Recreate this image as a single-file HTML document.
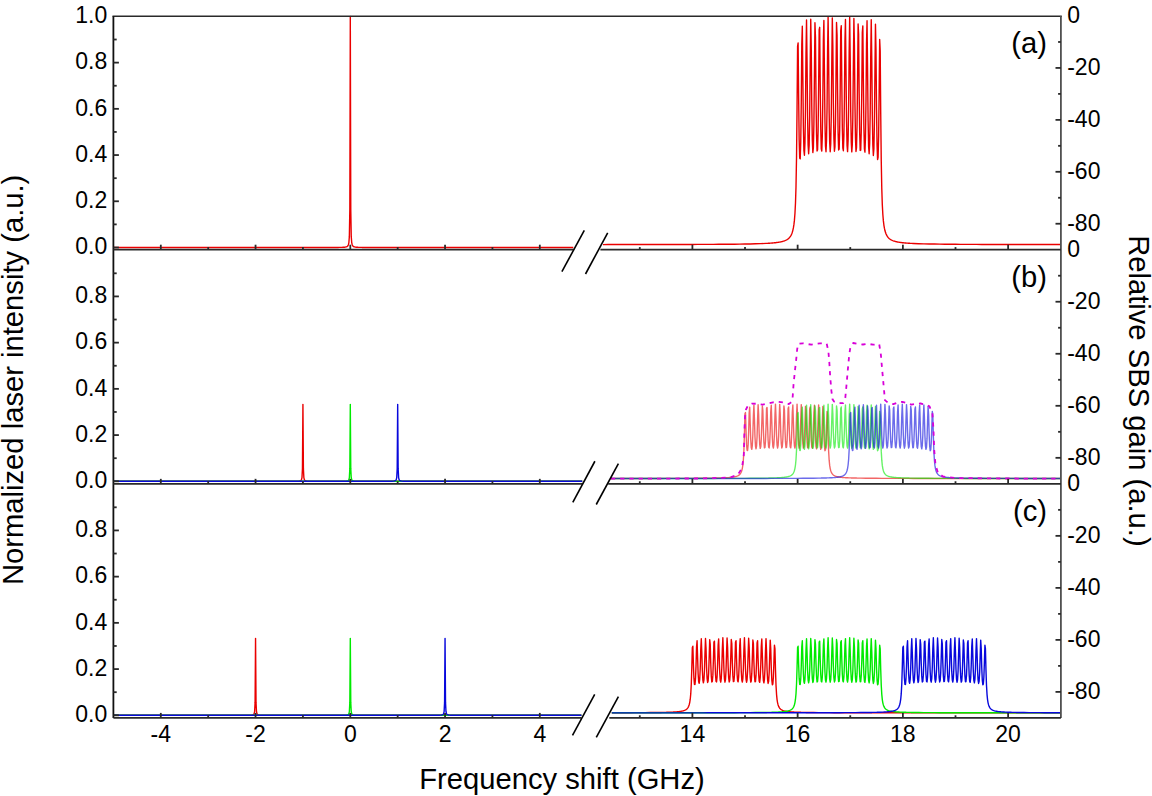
<!DOCTYPE html><html><head><meta charset="utf-8"><style>html,body{margin:0;padding:0;background:#fff;}svg{display:block;}text{font-family:"Liberation Sans",sans-serif;fill:#000;}</style></head><body>
<svg width="1152" height="796" viewBox="0 0 1152 796">
<defs>
<clipPath id="cl0"><rect x="113.4" y="14.0" width="459.90" height="235.70"/></clipPath>
<clipPath id="cr0"><rect x="602.90" y="14.0" width="458.00" height="235.70"/></clipPath>
<clipPath id="cl1"><rect x="113.4" y="247.7" width="468.80" height="236.15"/></clipPath>
<clipPath id="cr1"><rect x="610.70" y="247.7" width="450.20" height="236.15"/></clipPath>
<clipPath id="cl2"><rect x="113.4" y="481.85" width="468.00" height="236.05"/></clipPath>
<clipPath id="cr2"><rect x="611.80" y="481.85" width="449.10" height="236.05"/></clipPath>
</defs>
<g clip-path="url(#cl0)" fill="none" stroke-width="1.4" stroke-linejoin="round">
<polyline stroke="#ea0000" points="112.40,247.50 122.40,247.50 132.40,247.50 142.40,247.50 152.40,247.50 162.40,247.50 172.40,247.50 182.40,247.50 192.40,247.50 202.40,247.50 212.40,247.50 222.40,247.50 232.40,247.50 242.40,247.50 252.40,247.50 262.40,247.50 272.40,247.50 282.40,247.50 292.40,247.50 302.40,247.50 312.40,247.49 322.40,247.49 331.35,247.47 331.82,247.47 332.30,247.47 332.77,247.47 333.25,247.46 333.72,247.46 334.19,247.46 334.67,247.46 335.14,247.46 335.61,247.45 336.09,247.45 336.56,247.45 337.04,247.44 337.51,247.44 337.98,247.43 338.46,247.43 338.93,247.42 339.40,247.41 339.88,247.41 340.35,247.40 340.82,247.39 341.30,247.37 341.77,247.36 342.25,247.34 342.72,247.32 343.19,247.30 343.67,247.27 344.14,247.23 344.62,247.19 345.09,247.13 345.56,247.05 346.04,246.94 346.51,246.79 346.98,246.58 347.46,246.25 347.93,245.70 348.41,244.70 348.88,242.56 349.35,236.68 349.83,209.55 350.30,16.40 350.77,209.55 351.25,236.68 351.72,242.56 352.19,244.70 352.67,245.70 353.14,246.25 353.62,246.58 354.09,246.79 354.56,246.94 355.04,247.05 355.51,247.13 355.99,247.19 356.46,247.23 356.93,247.27 357.41,247.30 357.88,247.32 358.35,247.34 358.83,247.36 359.30,247.37 359.78,247.39 360.25,247.40 360.72,247.41 361.20,247.41 361.67,247.42 362.14,247.43 362.62,247.43 363.09,247.44 363.56,247.44 364.04,247.45 364.51,247.45 364.99,247.45 365.46,247.46 365.93,247.46 366.41,247.46 366.88,247.46 367.36,247.46 367.83,247.47 368.30,247.47 368.78,247.47 369.25,247.47 379.25,247.49 389.25,247.49 399.25,247.50 409.25,247.50 419.25,247.50 429.25,247.50 439.25,247.50 449.25,247.50 459.25,247.50 469.25,247.50 479.25,247.50 489.25,247.50 499.25,247.50 509.25,247.50 519.25,247.50 529.25,247.50 539.25,247.50 549.25,247.50 559.25,247.50 569.25,247.50 574.30,247.50"/>
</g>
<g clip-path="url(#cr0)" fill="none" stroke-width="1.4" stroke-linejoin="round">
<polyline stroke="#ea0000" points="602.89,244.58 608.15,244.57 613.41,244.57 618.68,244.57 623.94,244.56 629.20,244.56 634.46,244.55 639.72,244.54 644.99,244.54 650.25,244.53 655.51,244.52 660.77,244.51 666.03,244.50 671.30,244.49 676.56,244.48 681.82,244.47 687.08,244.46 692.34,244.44 697.61,244.42 702.87,244.40 708.13,244.38 713.39,244.35 718.65,244.32 723.92,244.28 729.18,244.24 734.44,244.19 739.70,244.12 744.96,244.04 750.23,243.95 755.49,243.82 760.75,243.65 766.01,243.42 766.54,243.39 767.06,243.36 767.59,243.33 768.12,243.30 768.64,243.27 769.17,243.23 769.70,243.20 770.22,243.16 770.75,243.12 771.27,243.08 771.80,243.04 772.33,243.00 772.85,242.95 773.38,242.90 773.91,242.85 774.43,242.80 774.96,242.74 775.48,242.68 776.01,242.62 776.54,242.56 777.06,242.49 777.59,242.41 778.11,242.34 778.64,242.25 779.17,242.16 779.69,242.07 780.22,241.97 780.75,241.86 781.27,241.75 781.80,241.62 782.32,241.49 782.85,241.35 783.38,241.19 783.90,241.02 784.43,240.83 784.96,240.63 785.48,240.41 786.01,240.16 786.53,239.89 787.06,239.58 787.59,239.24 788.11,238.85 788.64,238.41 789.17,237.91 789.69,237.32 790.22,236.64 790.74,235.83 791.27,234.86 791.80,233.68 792.32,232.21 792.85,230.35 793.37,227.93 793.90,224.68 794.43,220.15 794.95,213.53 795.48,203.32 796.01,186.54 796.53,157.36 797.06,107.32 797.58,46.41 798.11,42.85 798.64,97.06 799.16,139.51 799.69,158.19 800.22,158.86 800.74,142.22 801.27,102.81 801.79,44.25 802.32,26.24 802.85,77.32 803.37,126.19 803.90,150.34 804.42,155.27 804.95,143.13 805.48,109.47 806.00,52.83 806.53,20.01 807.06,62.54 807.58,116.06 808.11,145.17 808.63,153.83 809.16,145.53 809.69,116.99 810.21,63.89 810.74,19.18 811.27,49.16 811.79,105.89 812.32,140.12 812.84,152.55 813.37,147.83 813.90,124.05 814.42,75.57 814.95,22.76 815.48,37.19 816.00,95.03 816.53,134.55 817.05,150.93 817.58,149.69 818.11,130.32 818.63,87.00 819.16,29.96 819.68,27.32 820.21,83.39 820.74,128.21 821.26,148.79 821.79,150.98 822.32,135.73 822.84,97.72 823.37,39.85 823.89,20.40 824.42,71.09 824.95,120.94 825.47,146.01 826.00,151.68 826.53,140.28 827.05,107.48 827.58,51.40 828.10,17.13 828.63,58.49 829.16,112.64 829.68,142.51 830.21,151.75 830.73,144.01 831.26,116.18 831.79,63.70 832.31,17.88 832.84,46.19 833.37,103.26 833.89,138.21 834.42,151.19 834.94,146.97 835.47,123.81 836.00,75.99 836.52,22.52 837.05,34.97 837.58,92.83 838.10,133.05 838.63,149.97 839.15,149.20 839.68,130.39 840.21,87.76 840.73,30.49 841.26,25.79 841.79,81.44 842.31,126.94 842.84,148.08 843.36,150.73 843.89,136.00 844.42,98.67 844.94,40.92 845.47,19.56 845.99,69.36 846.52,119.82 847.05,145.48 847.57,151.61 848.10,140.70 848.63,108.56 849.15,52.87 849.68,17.02 850.20,57.01 850.73,111.63 851.26,142.14 851.78,151.85 852.31,144.58 852.84,117.37 853.36,65.45 853.89,18.51 854.41,45.05 854.94,102.38 855.47,138.00 855.99,151.48 856.52,147.72 857.04,125.14 857.57,77.98 858.10,23.89 858.62,34.33 859.15,92.13 859.68,133.04 860.20,150.51 860.73,150.20 861.25,131.96 861.78,90.02 862.31,32.59 862.83,25.85 863.36,81.06 863.89,127.25 864.41,149.00 864.94,152.14 865.46,137.96 865.99,101.36 866.52,43.84 867.04,20.66 867.57,69.57 868.10,120.70 868.62,147.06 869.15,153.75 869.67,143.43 870.20,112.05 870.73,56.91 871.25,19.70 871.78,58.43 872.30,113.70 872.83,145.06 873.36,155.51 873.88,148.99 874.41,122.72 874.94,71.74 875.46,24.19 875.99,49.42 876.51,107.60 877.04,144.62 877.57,159.49 878.09,157.27 878.62,136.64 879.15,91.88 879.67,39.50 880.20,50.97 880.72,112.97 881.25,160.84 881.78,188.52 882.30,204.49 882.83,214.27 883.35,220.64 883.88,225.03 884.41,228.19 884.93,230.55 885.46,232.36 885.99,233.80 886.51,234.96 887.04,235.91 887.56,236.71 888.09,237.38 888.62,237.96 889.14,238.45 889.67,238.89 890.20,239.27 890.72,239.61 891.25,239.91 891.77,240.18 892.30,240.43 892.83,240.65 893.35,240.85 893.88,241.04 894.41,241.20 894.93,241.36 895.46,241.50 895.98,241.64 896.51,241.76 897.04,241.87 897.56,241.98 898.09,242.08 898.61,242.17 899.14,242.26 899.67,242.34 900.19,242.42 900.72,242.49 901.25,242.56 901.77,242.63 902.30,242.69 902.82,242.75 903.35,242.80 903.88,242.86 904.40,242.91 904.93,242.96 905.46,243.00 905.98,243.05 906.51,243.09 907.03,243.13 907.56,243.17 908.09,243.20 908.61,243.24 909.14,243.27 909.66,243.30 910.19,243.34 910.72,243.37 911.24,243.39 913.35,243.50 918.61,243.71 923.87,243.86 929.13,243.98 934.40,244.07 939.66,244.14 944.92,244.20 950.18,244.25 955.44,244.29 960.71,244.33 965.97,244.36 971.23,244.38 976.49,244.41 981.75,244.43 987.02,244.44 992.28,244.46 997.54,244.47 1002.80,244.49 1008.06,244.50 1013.33,244.51 1018.59,244.52 1023.85,244.53 1029.11,244.53 1034.37,244.54 1039.64,244.55 1044.90,244.55 1050.16,244.56 1055.42,244.56 1060.68,244.57 1065.95,244.57 1066.47,244.57"/>
</g>
<g clip-path="url(#cl1)" fill="none" stroke-width="1.4" stroke-linejoin="round">
<polyline stroke="#ea0000" points="112.40,481.30 122.40,481.30 132.40,481.30 142.40,481.30 152.40,481.30 162.40,481.30 172.40,481.30 182.40,481.30 192.40,481.30 202.40,481.30 212.40,481.30 222.40,481.30 232.40,481.30 242.40,481.30 252.40,481.30 262.40,481.30 272.40,481.30 282.40,481.29 283.98,481.29 284.45,481.29 284.92,481.29 285.40,481.29 285.87,481.29 286.34,481.29 286.82,481.29 287.29,481.29 287.76,481.29 288.24,481.28 288.71,481.28 289.19,481.28 289.66,481.28 290.13,481.28 290.61,481.28 291.08,481.28 291.56,481.27 292.03,481.27 292.50,481.27 292.98,481.27 293.45,481.26 293.92,481.26 294.40,481.25 294.87,481.25 295.35,481.24 295.82,481.23 296.29,481.22 296.77,481.21 297.24,481.20 297.71,481.18 298.19,481.15 298.66,481.11 299.13,481.06 299.61,480.99 300.08,480.88 300.56,480.70 301.03,480.37 301.50,479.66 301.98,477.70 302.45,468.66 302.93,404.34 303.40,468.66 303.87,477.70 304.35,479.66 304.82,480.37 305.29,480.70 305.77,480.88 306.24,480.99 306.72,481.06 307.19,481.11 307.66,481.15 308.14,481.18 308.61,481.20 309.08,481.21 309.56,481.22 310.03,481.23 310.50,481.24 310.98,481.25 311.45,481.25 311.93,481.26 312.40,481.26 312.87,481.27 313.35,481.27 313.82,481.27 314.30,481.27 314.77,481.28 315.24,481.28 315.72,481.28 316.19,481.28 316.66,481.28 317.14,481.28 317.61,481.28 318.09,481.29 318.56,481.29 319.03,481.29 319.51,481.29 319.98,481.29 320.45,481.29 320.93,481.29 321.40,481.29 321.88,481.29 331.88,481.30 341.88,481.30 351.88,481.30 361.88,481.30 371.88,481.30 381.88,481.30 391.88,481.30 401.88,481.30 411.88,481.30 421.88,481.30 431.88,481.30 441.88,481.30 451.88,481.30 461.88,481.30 471.88,481.30 481.88,481.30 491.88,481.30 501.88,481.30 511.88,481.30 521.88,481.30 531.88,481.30 541.88,481.30 551.88,481.30 561.88,481.30 571.88,481.30 581.88,481.30 583.20,481.30"/>
<polyline stroke="#00ea00" points="112.40,481.30 122.40,481.30 132.40,481.30 142.40,481.30 152.40,481.30 162.40,481.30 172.40,481.30 182.40,481.30 192.40,481.30 202.40,481.30 212.40,481.30 222.40,481.30 232.40,481.30 242.40,481.30 252.40,481.30 262.40,481.30 272.40,481.30 282.40,481.30 292.40,481.30 302.40,481.30 312.40,481.30 322.40,481.30 331.35,481.29 331.82,481.29 332.30,481.29 332.77,481.29 333.25,481.29 333.72,481.29 334.19,481.29 334.67,481.29 335.14,481.29 335.61,481.28 336.09,481.28 336.56,481.28 337.04,481.28 337.51,481.28 337.98,481.28 338.46,481.28 338.93,481.27 339.40,481.27 339.88,481.27 340.35,481.27 340.82,481.26 341.30,481.26 341.77,481.25 342.25,481.25 342.72,481.24 343.19,481.23 343.67,481.22 344.14,481.21 344.62,481.20 345.09,481.18 345.56,481.15 346.04,481.11 346.51,481.06 346.98,480.99 347.46,480.88 347.93,480.70 348.41,480.37 348.88,479.66 349.35,477.70 349.83,468.66 350.30,404.34 350.77,468.66 351.25,477.70 351.72,479.66 352.19,480.37 352.67,480.70 353.14,480.88 353.62,480.99 354.09,481.06 354.56,481.11 355.04,481.15 355.51,481.18 355.99,481.20 356.46,481.21 356.93,481.22 357.41,481.23 357.88,481.24 358.35,481.25 358.83,481.25 359.30,481.26 359.78,481.26 360.25,481.27 360.72,481.27 361.20,481.27 361.67,481.27 362.14,481.28 362.62,481.28 363.09,481.28 363.56,481.28 364.04,481.28 364.51,481.28 364.99,481.28 365.46,481.29 365.93,481.29 366.41,481.29 366.88,481.29 367.36,481.29 367.83,481.29 368.30,481.29 368.78,481.29 369.25,481.29 379.25,481.30 389.25,481.30 399.25,481.30 409.25,481.30 419.25,481.30 429.25,481.30 439.25,481.30 449.25,481.30 459.25,481.30 469.25,481.30 479.25,481.30 489.25,481.30 499.25,481.30 509.25,481.30 519.25,481.30 529.25,481.30 539.25,481.30 549.25,481.30 559.25,481.30 569.25,481.30 579.25,481.30 583.20,481.30"/>
<polyline stroke="#0808dc" points="112.40,481.30 122.40,481.30 132.40,481.30 142.40,481.30 152.40,481.30 162.40,481.30 172.40,481.30 182.40,481.30 192.40,481.30 202.40,481.30 212.40,481.30 222.40,481.30 232.40,481.30 242.40,481.30 252.40,481.30 262.40,481.30 272.40,481.30 282.40,481.30 292.40,481.30 302.40,481.30 312.40,481.30 322.40,481.30 332.40,481.30 342.40,481.30 352.40,481.30 362.40,481.30 372.40,481.29 378.73,481.29 379.20,481.29 379.67,481.29 380.15,481.29 380.62,481.29 381.09,481.29 381.57,481.29 382.04,481.29 382.51,481.29 382.99,481.28 383.46,481.28 383.94,481.28 384.41,481.28 384.88,481.28 385.36,481.28 385.83,481.28 386.31,481.27 386.78,481.27 387.25,481.27 387.73,481.27 388.20,481.26 388.67,481.26 389.15,481.25 389.62,481.25 390.10,481.24 390.57,481.23 391.04,481.22 391.52,481.21 391.99,481.20 392.46,481.18 392.94,481.15 393.41,481.11 393.88,481.06 394.36,480.99 394.83,480.88 395.31,480.70 395.78,480.37 396.25,479.66 396.73,477.70 397.20,468.66 397.68,404.34 398.15,468.66 398.62,477.70 399.10,479.66 399.57,480.37 400.04,480.70 400.52,480.88 400.99,480.99 401.47,481.06 401.94,481.11 402.41,481.15 402.89,481.18 403.36,481.20 403.83,481.21 404.31,481.22 404.78,481.23 405.25,481.24 405.73,481.25 406.20,481.25 406.68,481.26 407.15,481.26 407.62,481.27 408.10,481.27 408.57,481.27 409.05,481.27 409.52,481.28 409.99,481.28 410.47,481.28 410.94,481.28 411.41,481.28 411.89,481.28 412.36,481.28 412.84,481.29 413.31,481.29 413.78,481.29 414.26,481.29 414.73,481.29 415.20,481.29 415.68,481.29 416.15,481.29 416.62,481.29 426.62,481.30 436.62,481.30 446.62,481.30 456.62,481.30 466.62,481.30 476.62,481.30 486.62,481.30 496.62,481.30 506.62,481.30 516.62,481.30 526.62,481.30 536.62,481.30 546.62,481.30 556.62,481.30 566.62,481.30 576.62,481.30 583.20,481.30"/>
</g>
<g clip-path="url(#cr1)" fill="none" stroke-width="1.4" stroke-linejoin="round">
<polyline stroke="#ea0000" stroke-opacity="0.6" points="602.89,478.48 608.15,478.48 613.41,478.48 618.68,478.47 623.94,478.47 629.20,478.47 634.46,478.46 639.72,478.46 644.99,478.45 650.25,478.44 655.51,478.44 660.77,478.43 666.03,478.42 671.30,478.40 676.56,478.39 681.82,478.37 687.08,478.35 692.34,478.33 697.61,478.29 702.87,478.25 708.13,478.20 713.39,478.12 713.92,478.11 714.44,478.10 714.97,478.09 715.50,478.08 716.02,478.07 716.55,478.06 717.08,478.05 717.60,478.04 718.13,478.03 718.65,478.01 719.18,478.00 719.71,477.98 720.23,477.97 720.76,477.95 721.29,477.94 721.81,477.92 722.34,477.90 722.86,477.88 723.39,477.86 723.92,477.84 724.44,477.82 724.97,477.79 725.49,477.77 726.02,477.74 726.55,477.71 727.07,477.68 727.60,477.65 728.13,477.61 728.65,477.58 729.18,477.53 729.70,477.49 730.23,477.44 730.76,477.39 731.28,477.34 731.81,477.28 732.34,477.21 732.86,477.14 733.39,477.06 733.91,476.97 734.44,476.87 734.97,476.76 735.49,476.63 736.02,476.48 736.55,476.32 737.07,476.13 737.60,475.90 738.12,475.64 738.65,475.32 739.18,474.94 739.70,474.46 740.23,473.85 740.75,473.06 741.28,472.00 741.81,470.51 742.33,468.35 742.86,465.01 743.39,459.53 743.91,449.99 744.44,433.63 744.96,413.72 745.49,412.55 746.02,430.28 746.54,444.15 747.07,450.26 747.60,450.48 748.12,445.04 748.65,432.16 749.17,413.01 749.70,407.12 750.23,423.82 750.75,439.80 751.28,447.69 751.80,449.30 752.33,445.34 752.86,434.33 753.38,415.82 753.91,405.09 754.44,418.99 754.96,436.49 755.49,446.00 756.01,448.84 756.54,446.12 757.07,436.79 757.59,419.43 758.12,404.82 758.65,414.62 759.17,433.16 759.70,444.35 760.22,448.42 760.75,446.88 761.28,439.10 761.80,423.25 762.33,405.99 762.86,410.70 763.38,429.61 763.91,442.53 764.43,447.89 764.96,447.48 765.49,441.15 766.01,426.99 766.54,408.34 767.06,407.48 767.59,425.81 768.12,440.46 768.64,447.19 769.17,447.90 769.70,442.92 770.22,430.49 770.75,411.57 771.27,405.22 771.80,421.79 772.33,438.08 772.85,446.28 773.38,448.13 773.91,444.40 774.43,433.68 774.96,415.35 775.48,404.15 776.01,417.67 776.54,435.37 777.06,445.13 777.59,448.15 778.11,445.62 778.64,436.53 779.17,419.37 779.69,404.39 780.22,413.65 780.75,432.30 781.27,443.73 781.80,447.97 782.32,446.59 782.85,439.02 783.38,423.39 783.90,405.91 784.43,409.98 784.96,428.89 785.48,442.04 786.01,447.57 786.53,447.32 787.06,441.17 787.59,427.24 788.11,408.52 788.64,406.98 789.17,425.17 789.69,440.04 790.22,446.96 790.74,447.82 791.27,443.01 791.80,430.80 792.32,411.93 792.85,404.94 793.37,421.22 793.90,437.72 794.43,446.11 794.95,448.11 795.48,444.54 796.01,434.04 796.53,415.83 797.06,404.11 797.58,417.18 798.11,435.04 798.64,445.01 799.16,448.19 799.69,445.81 800.22,436.92 800.74,419.94 801.27,404.60 801.79,413.27 802.32,432.02 802.85,443.66 803.37,448.07 803.90,446.84 804.42,439.46 804.95,424.04 805.48,406.36 806.00,409.77 806.53,428.66 807.06,442.04 807.58,447.75 808.11,447.65 808.63,441.68 809.16,427.98 809.69,409.20 810.21,407.00 810.74,425.05 811.27,440.15 811.79,447.26 812.32,448.28 812.84,443.65 813.37,431.68 813.90,412.88 814.42,405.30 814.95,421.29 815.48,438.00 816.00,446.62 816.53,448.81 817.05,445.43 817.58,435.18 818.11,417.15 818.63,404.99 819.16,417.65 819.68,435.72 820.21,445.97 820.74,449.38 821.26,447.25 821.79,438.66 822.32,422.00 822.84,406.46 823.37,414.70 823.89,433.72 824.42,445.82 824.95,450.69 825.47,449.96 826.00,443.22 826.53,428.58 827.05,411.46 827.58,415.21 828.10,435.48 828.63,451.13 829.16,460.17 829.68,465.40 830.21,468.59 830.73,470.68 831.26,472.11 831.79,473.14 832.31,473.91 832.84,474.51 833.37,474.98 833.89,475.36 834.42,475.67 834.94,475.93 835.47,476.15 836.00,476.34 836.52,476.50 837.05,476.64 837.58,476.77 838.10,476.88 838.63,476.98 839.15,477.06 839.68,477.14 840.21,477.22 840.73,477.28 841.26,477.34 841.79,477.40 842.31,477.45 842.84,477.50 843.36,477.54 843.89,477.58 844.42,477.62 844.94,477.65 845.47,477.68 845.99,477.71 846.52,477.74 847.05,477.77 847.57,477.80 848.10,477.82 848.63,477.84 849.15,477.86 849.68,477.88 850.20,477.90 850.73,477.92 851.26,477.94 851.78,477.95 852.31,477.97 852.84,477.99 853.36,478.00 853.89,478.01 854.41,478.03 854.94,478.04 855.47,478.05 855.99,478.06 856.52,478.07 857.04,478.08 857.57,478.09 858.10,478.10 858.62,478.11 860.73,478.15 865.99,478.22 871.25,478.27 876.51,478.30 881.78,478.33 887.04,478.36 892.30,478.38 897.56,478.39 902.82,478.41 908.09,478.42 913.35,478.43 918.61,478.44 923.87,478.45 929.13,478.45 934.40,478.46 939.66,478.46 944.92,478.47 950.18,478.47 955.44,478.47 960.71,478.48 965.97,478.48 971.23,478.48 976.49,478.49 981.75,478.49 987.02,478.49 992.28,478.49 997.54,478.49 1002.80,478.50 1008.06,478.50 1013.33,478.50 1018.59,478.50 1023.85,478.50 1029.11,478.50 1034.37,478.50 1039.64,478.50 1044.90,478.51 1050.16,478.51 1055.42,478.51 1060.68,478.51 1065.95,478.51 1066.47,478.51"/>
<polyline stroke="#00ea00" stroke-opacity="0.6" points="602.89,478.50 608.15,478.50 613.41,478.50 618.68,478.50 623.94,478.50 629.20,478.49 634.46,478.49 639.72,478.49 644.99,478.49 650.25,478.49 655.51,478.48 660.77,478.48 666.03,478.48 671.30,478.47 676.56,478.47 681.82,478.47 687.08,478.46 692.34,478.46 697.61,478.45 702.87,478.44 708.13,478.44 713.39,478.43 718.65,478.42 723.92,478.40 729.18,478.39 734.44,478.37 739.70,478.35 744.96,478.33 750.23,478.29 755.49,478.25 760.75,478.20 766.01,478.12 766.54,478.11 767.06,478.10 767.59,478.09 768.12,478.08 768.64,478.07 769.17,478.06 769.70,478.05 770.22,478.04 770.75,478.03 771.27,478.01 771.80,478.00 772.33,477.98 772.85,477.97 773.38,477.95 773.91,477.94 774.43,477.92 774.96,477.90 775.48,477.88 776.01,477.86 776.54,477.84 777.06,477.82 777.59,477.79 778.11,477.77 778.64,477.74 779.17,477.71 779.69,477.68 780.22,477.65 780.75,477.61 781.27,477.58 781.80,477.53 782.32,477.49 782.85,477.44 783.38,477.39 783.90,477.34 784.43,477.28 784.96,477.21 785.48,477.14 786.01,477.06 786.53,476.97 787.06,476.87 787.59,476.76 788.11,476.63 788.64,476.48 789.17,476.32 789.69,476.13 790.22,475.90 790.74,475.64 791.27,475.32 791.80,474.94 792.32,474.46 792.85,473.85 793.37,473.06 793.90,472.00 794.43,470.51 794.95,468.35 795.48,465.01 796.01,459.53 796.53,449.99 797.06,433.63 797.58,413.72 798.11,412.55 798.64,430.28 799.16,444.15 799.69,450.26 800.22,450.48 800.74,445.04 801.27,432.16 801.79,413.01 802.32,407.12 802.85,423.82 803.37,439.80 803.90,447.69 804.42,449.30 804.95,445.34 805.48,434.33 806.00,415.82 806.53,405.09 807.06,418.99 807.58,436.49 808.11,446.00 808.63,448.84 809.16,446.12 809.69,436.79 810.21,419.43 810.74,404.82 811.27,414.62 811.79,433.16 812.32,444.35 812.84,448.42 813.37,446.88 813.90,439.10 814.42,423.25 814.95,405.99 815.48,410.70 816.00,429.61 816.53,442.53 817.05,447.89 817.58,447.48 818.11,441.15 818.63,426.99 819.16,408.34 819.68,407.48 820.21,425.81 820.74,440.46 821.26,447.19 821.79,447.90 822.32,442.92 822.84,430.49 823.37,411.57 823.89,405.22 824.42,421.79 824.95,438.08 825.47,446.28 826.00,448.13 826.53,444.40 827.05,433.68 827.58,415.35 828.10,404.15 828.63,417.67 829.16,435.37 829.68,445.13 830.21,448.15 830.73,445.62 831.26,436.53 831.79,419.37 832.31,404.39 832.84,413.65 833.37,432.30 833.89,443.73 834.42,447.97 834.94,446.59 835.47,439.02 836.00,423.39 836.52,405.91 837.05,409.98 837.58,428.89 838.10,442.04 838.63,447.57 839.15,447.32 839.68,441.17 840.21,427.24 840.73,408.52 841.26,406.98 841.79,425.17 842.31,440.04 842.84,446.96 843.36,447.82 843.89,443.01 844.42,430.80 844.94,411.93 845.47,404.94 845.99,421.22 846.52,437.72 847.05,446.11 847.57,448.11 848.10,444.54 848.63,434.04 849.15,415.83 849.68,404.11 850.20,417.18 850.73,435.04 851.26,445.01 851.78,448.19 852.31,445.81 852.84,436.92 853.36,419.94 853.89,404.60 854.41,413.27 854.94,432.02 855.47,443.66 855.99,448.07 856.52,446.84 857.04,439.46 857.57,424.04 858.10,406.36 858.62,409.77 859.15,428.66 859.68,442.04 860.20,447.75 860.73,447.65 861.25,441.68 861.78,427.98 862.31,409.20 862.83,407.00 863.36,425.05 863.89,440.15 864.41,447.26 864.94,448.28 865.46,443.65 865.99,431.68 866.52,412.88 867.04,405.30 867.57,421.29 868.10,438.00 868.62,446.62 869.15,448.81 869.67,445.43 870.20,435.18 870.73,417.15 871.25,404.99 871.78,417.65 872.30,435.72 872.83,445.97 873.36,449.38 873.88,447.25 874.41,438.66 874.94,422.00 875.46,406.46 875.99,414.70 876.51,433.72 877.04,445.82 877.57,450.69 878.09,449.96 878.62,443.22 879.15,428.58 879.67,411.46 880.20,415.21 880.72,435.48 881.25,451.13 881.78,460.17 882.30,465.40 882.83,468.59 883.35,470.68 883.88,472.11 884.41,473.14 884.93,473.91 885.46,474.51 885.99,474.98 886.51,475.36 887.04,475.67 887.56,475.93 888.09,476.15 888.62,476.34 889.14,476.50 889.67,476.64 890.20,476.77 890.72,476.88 891.25,476.98 891.77,477.06 892.30,477.14 892.83,477.22 893.35,477.28 893.88,477.34 894.41,477.40 894.93,477.45 895.46,477.50 895.98,477.54 896.51,477.58 897.04,477.62 897.56,477.65 898.09,477.68 898.61,477.71 899.14,477.74 899.67,477.77 900.19,477.80 900.72,477.82 901.25,477.84 901.77,477.86 902.30,477.88 902.82,477.90 903.35,477.92 903.88,477.94 904.40,477.95 904.93,477.97 905.46,477.99 905.98,478.00 906.51,478.01 907.03,478.03 907.56,478.04 908.09,478.05 908.61,478.06 909.14,478.07 909.66,478.08 910.19,478.09 910.72,478.10 911.24,478.11 913.35,478.15 918.61,478.22 923.87,478.27 929.13,478.30 934.40,478.33 939.66,478.36 944.92,478.38 950.18,478.39 955.44,478.41 960.71,478.42 965.97,478.43 971.23,478.44 976.49,478.45 981.75,478.45 987.02,478.46 992.28,478.46 997.54,478.47 1002.80,478.47 1008.06,478.47 1013.33,478.48 1018.59,478.48 1023.85,478.48 1029.11,478.49 1034.37,478.49 1039.64,478.49 1044.90,478.49 1050.16,478.49 1055.42,478.50 1060.68,478.50 1065.95,478.50 1066.47,478.50"/>
<polyline stroke="#0808dc" stroke-opacity="0.6" points="602.89,478.51 608.15,478.51 613.41,478.51 618.68,478.51 623.94,478.51 629.20,478.51 634.46,478.51 639.72,478.50 644.99,478.50 650.25,478.50 655.51,478.50 660.77,478.50 666.03,478.50 671.30,478.50 676.56,478.50 681.82,478.49 687.08,478.49 692.34,478.49 697.61,478.49 702.87,478.49 708.13,478.48 713.39,478.48 718.65,478.48 723.92,478.47 729.18,478.47 734.44,478.47 739.70,478.46 744.96,478.46 750.23,478.45 755.49,478.44 760.75,478.44 766.01,478.43 771.27,478.42 776.54,478.40 781.80,478.39 787.06,478.37 792.32,478.35 797.58,478.33 802.85,478.29 808.11,478.25 813.37,478.20 818.63,478.12 819.16,478.11 819.68,478.10 820.21,478.09 820.74,478.08 821.26,478.07 821.79,478.06 822.32,478.05 822.84,478.04 823.37,478.03 823.89,478.01 824.42,478.00 824.95,477.98 825.47,477.97 826.00,477.95 826.53,477.94 827.05,477.92 827.58,477.90 828.10,477.88 828.63,477.86 829.16,477.84 829.68,477.82 830.21,477.79 830.73,477.77 831.26,477.74 831.79,477.71 832.31,477.68 832.84,477.65 833.37,477.61 833.89,477.58 834.42,477.53 834.94,477.49 835.47,477.44 836.00,477.39 836.52,477.34 837.05,477.28 837.58,477.21 838.10,477.14 838.63,477.06 839.15,476.97 839.68,476.87 840.21,476.76 840.73,476.63 841.26,476.48 841.79,476.32 842.31,476.13 842.84,475.90 843.36,475.64 843.89,475.32 844.42,474.94 844.94,474.46 845.47,473.85 845.99,473.06 846.52,472.00 847.05,470.51 847.57,468.35 848.10,465.01 848.63,459.53 849.15,449.99 849.68,433.63 850.20,413.72 850.73,412.55 851.26,430.28 851.78,444.15 852.31,450.26 852.84,450.48 853.36,445.04 853.89,432.16 854.41,413.01 854.94,407.12 855.47,423.82 855.99,439.80 856.52,447.69 857.04,449.30 857.57,445.34 858.10,434.33 858.62,415.82 859.15,405.09 859.68,418.99 860.20,436.49 860.73,446.00 861.25,448.84 861.78,446.12 862.31,436.79 862.83,419.43 863.36,404.82 863.89,414.62 864.41,433.16 864.94,444.35 865.46,448.42 865.99,446.88 866.52,439.10 867.04,423.25 867.57,405.99 868.10,410.70 868.62,429.61 869.15,442.53 869.67,447.89 870.20,447.48 870.73,441.15 871.25,426.99 871.78,408.34 872.30,407.48 872.83,425.81 873.36,440.46 873.88,447.19 874.41,447.90 874.94,442.92 875.46,430.49 875.99,411.57 876.51,405.22 877.04,421.79 877.57,438.08 878.09,446.28 878.62,448.13 879.15,444.40 879.67,433.68 880.20,415.35 880.72,404.15 881.25,417.67 881.78,435.37 882.30,445.13 882.83,448.15 883.35,445.62 883.88,436.53 884.41,419.37 884.93,404.39 885.46,413.65 885.99,432.30 886.51,443.73 887.04,447.97 887.56,446.59 888.09,439.02 888.62,423.39 889.14,405.91 889.67,409.98 890.20,428.89 890.72,442.04 891.25,447.57 891.77,447.32 892.30,441.17 892.83,427.24 893.35,408.52 893.88,406.98 894.41,425.17 894.93,440.04 895.46,446.96 895.98,447.82 896.51,443.01 897.04,430.80 897.56,411.93 898.09,404.94 898.61,421.22 899.14,437.72 899.67,446.11 900.19,448.11 900.72,444.54 901.25,434.04 901.77,415.83 902.30,404.11 902.82,417.18 903.35,435.04 903.88,445.01 904.40,448.19 904.93,445.81 905.46,436.92 905.98,419.94 906.51,404.60 907.03,413.27 907.56,432.02 908.09,443.66 908.61,448.07 909.14,446.84 909.66,439.46 910.19,424.04 910.72,406.36 911.24,409.77 911.77,428.66 912.30,442.04 912.82,447.75 913.35,447.65 913.87,441.68 914.40,427.98 914.93,409.20 915.45,407.00 915.98,425.05 916.51,440.15 917.03,447.26 917.56,448.28 918.08,443.65 918.61,431.68 919.14,412.88 919.66,405.30 920.19,421.29 920.72,438.00 921.24,446.62 921.77,448.81 922.29,445.43 922.82,435.18 923.35,417.15 923.87,404.99 924.40,417.65 924.92,435.72 925.45,445.97 925.98,449.38 926.50,447.25 927.03,438.66 927.56,422.00 928.08,406.46 928.61,414.70 929.13,433.72 929.66,445.82 930.19,450.69 930.71,449.96 931.24,443.22 931.77,428.58 932.29,411.46 932.82,415.21 933.34,435.48 933.87,451.13 934.40,460.17 934.92,465.40 935.45,468.59 935.97,470.68 936.50,472.11 937.03,473.14 937.55,473.91 938.08,474.51 938.61,474.98 939.13,475.36 939.66,475.67 940.18,475.93 940.71,476.15 941.24,476.34 941.76,476.50 942.29,476.64 942.82,476.77 943.34,476.88 943.87,476.98 944.39,477.06 944.92,477.14 945.45,477.22 945.97,477.28 946.50,477.34 947.03,477.40 947.55,477.45 948.08,477.50 948.60,477.54 949.13,477.58 949.66,477.62 950.18,477.65 950.71,477.68 951.23,477.71 951.76,477.74 952.29,477.77 952.81,477.80 953.34,477.82 953.87,477.84 954.39,477.86 954.92,477.88 955.44,477.90 955.97,477.92 956.50,477.94 957.02,477.95 957.55,477.97 958.08,477.99 958.60,478.00 959.13,478.01 959.65,478.03 960.18,478.04 960.71,478.05 961.23,478.06 961.76,478.07 962.28,478.08 962.81,478.09 963.34,478.10 963.86,478.11 965.97,478.15 971.23,478.22 976.49,478.27 981.75,478.30 987.02,478.33 992.28,478.36 997.54,478.38 1002.80,478.39 1008.06,478.41 1013.33,478.42 1018.59,478.43 1023.85,478.44 1029.11,478.45 1034.37,478.45 1039.64,478.46 1044.90,478.46 1050.16,478.47 1055.42,478.47 1060.68,478.47 1065.95,478.48 1066.47,478.48"/>
</g>
<polyline fill="none" stroke="#d800d8" stroke-width="1.8" stroke-dasharray="4.2 5" stroke-linejoin="round" points="611,478.6 700,478.5 730,477.5 738,474.5 742,468 743.8,455 744.5,430 745,417 746,409.5 748.1,405.2 752,403.6 757,403.8 762.8,404.7 768,403.5 773,402.3 778.6,401.8 784,402.5 788.8,404.1 791.5,402 792.6,398 793.5,385 795,370 796.2,359.4 797.2,349 798.4,343.8 803,343.3 807,344 811.4,344.7 815,344 820,343.3 826.7,343.6 828.4,351.5 829.3,362 830.1,375.2 831.3,390 832.4,399 834,401.5 836.3,402.4 840,403 843.1,403.2 845.3,397.9 846.5,385 847.8,370 849.2,355 850.4,347 853.2,343 858,343.8 863,344.5 868,343.8 873,344.7 879.2,344.1 880.9,354.9 882,368 883.2,380.9 884.2,392 884.9,400.1 888,402.8 893.3,404.1 898,402.5 902.4,401.8 907,403 911.4,404.7 916,403.8 920.5,403.5 925,404.5 929.5,406.4 932.4,413.7 933.5,430 934.2,450 935.5,465 938,473 943,476.5 955,478 1000,478.5 1059,478.6"/>
<g clip-path="url(#cl2)" fill="none" stroke-width="1.4" stroke-linejoin="round">
<polyline stroke="#ea0000" points="112.40,715.30 122.40,715.30 132.40,715.30 142.40,715.30 152.40,715.30 162.40,715.30 172.40,715.30 182.40,715.30 192.40,715.30 202.40,715.30 212.40,715.30 222.40,715.30 232.40,715.29 236.60,715.29 237.07,715.29 237.55,715.29 238.02,715.29 238.50,715.29 238.97,715.29 239.44,715.29 239.92,715.29 240.39,715.29 240.86,715.28 241.34,715.28 241.81,715.28 242.29,715.28 242.76,715.28 243.23,715.28 243.71,715.28 244.18,715.27 244.65,715.27 245.13,715.27 245.60,715.27 246.08,715.26 246.55,715.26 247.02,715.25 247.50,715.25 247.97,715.24 248.44,715.23 248.92,715.22 249.39,715.21 249.87,715.20 250.34,715.18 250.81,715.15 251.29,715.11 251.76,715.06 252.23,714.99 252.71,714.88 253.18,714.70 253.66,714.37 254.13,713.66 254.60,711.70 255.08,702.66 255.55,638.34 256.02,702.66 256.50,711.70 256.97,713.66 257.44,714.37 257.92,714.70 258.39,714.88 258.87,714.99 259.34,715.06 259.81,715.11 260.29,715.15 260.76,715.18 261.24,715.20 261.71,715.21 262.18,715.22 262.66,715.23 263.13,715.24 263.60,715.25 264.08,715.25 264.55,715.26 265.03,715.26 265.50,715.27 265.97,715.27 266.45,715.27 266.92,715.27 267.39,715.28 267.87,715.28 268.34,715.28 268.81,715.28 269.29,715.28 269.76,715.28 270.24,715.28 270.71,715.29 271.18,715.29 271.66,715.29 272.13,715.29 272.61,715.29 273.08,715.29 273.55,715.29 274.03,715.29 274.50,715.29 284.50,715.30 294.50,715.30 304.50,715.30 314.50,715.30 324.50,715.30 334.50,715.30 344.50,715.30 354.50,715.30 364.50,715.30 374.50,715.30 384.50,715.30 394.50,715.30 404.50,715.30 414.50,715.30 424.50,715.30 434.50,715.30 444.50,715.30 454.50,715.30 464.50,715.30 474.50,715.30 484.50,715.30 494.50,715.30 504.50,715.30 514.50,715.30 524.50,715.30 534.50,715.30 544.50,715.30 554.50,715.30 564.50,715.30 574.50,715.30 582.40,715.30"/>
<polyline stroke="#00ea00" points="112.40,715.30 122.40,715.30 132.40,715.30 142.40,715.30 152.40,715.30 162.40,715.30 172.40,715.30 182.40,715.30 192.40,715.30 202.40,715.30 212.40,715.30 222.40,715.30 232.40,715.30 242.40,715.30 252.40,715.30 262.40,715.30 272.40,715.30 282.40,715.30 292.40,715.30 302.40,715.30 312.40,715.30 322.40,715.30 331.35,715.29 331.82,715.29 332.30,715.29 332.77,715.29 333.25,715.29 333.72,715.29 334.19,715.29 334.67,715.29 335.14,715.29 335.61,715.28 336.09,715.28 336.56,715.28 337.04,715.28 337.51,715.28 337.98,715.28 338.46,715.28 338.93,715.27 339.40,715.27 339.88,715.27 340.35,715.27 340.82,715.26 341.30,715.26 341.77,715.25 342.25,715.25 342.72,715.24 343.19,715.23 343.67,715.22 344.14,715.21 344.62,715.20 345.09,715.18 345.56,715.15 346.04,715.11 346.51,715.06 346.98,714.99 347.46,714.88 347.93,714.70 348.41,714.37 348.88,713.66 349.35,711.70 349.83,702.66 350.30,638.34 350.77,702.66 351.25,711.70 351.72,713.66 352.19,714.37 352.67,714.70 353.14,714.88 353.62,714.99 354.09,715.06 354.56,715.11 355.04,715.15 355.51,715.18 355.99,715.20 356.46,715.21 356.93,715.22 357.41,715.23 357.88,715.24 358.35,715.25 358.83,715.25 359.30,715.26 359.78,715.26 360.25,715.27 360.72,715.27 361.20,715.27 361.67,715.27 362.14,715.28 362.62,715.28 363.09,715.28 363.56,715.28 364.04,715.28 364.51,715.28 364.99,715.28 365.46,715.29 365.93,715.29 366.41,715.29 366.88,715.29 367.36,715.29 367.83,715.29 368.30,715.29 368.78,715.29 369.25,715.29 379.25,715.30 389.25,715.30 399.25,715.30 409.25,715.30 419.25,715.30 429.25,715.30 439.25,715.30 449.25,715.30 459.25,715.30 469.25,715.30 479.25,715.30 489.25,715.30 499.25,715.30 509.25,715.30 519.25,715.30 529.25,715.30 539.25,715.30 549.25,715.30 559.25,715.30 569.25,715.30 579.25,715.30 582.40,715.30"/>
<polyline stroke="#0808dc" points="112.40,715.30 122.40,715.30 132.40,715.30 142.40,715.30 152.40,715.30 162.40,715.30 172.40,715.30 182.40,715.30 192.40,715.30 202.40,715.30 212.40,715.30 222.40,715.30 232.40,715.30 242.40,715.30 252.40,715.30 262.40,715.30 272.40,715.30 282.40,715.30 292.40,715.30 302.40,715.30 312.40,715.30 322.40,715.30 332.40,715.30 342.40,715.30 352.40,715.30 362.40,715.30 372.40,715.30 382.40,715.30 392.40,715.30 402.40,715.30 412.40,715.30 422.40,715.29 426.10,715.29 426.57,715.29 427.05,715.29 427.52,715.29 428.00,715.29 428.47,715.29 428.94,715.29 429.42,715.29 429.89,715.29 430.36,715.28 430.84,715.28 431.31,715.28 431.79,715.28 432.26,715.28 432.73,715.28 433.21,715.28 433.68,715.27 434.15,715.27 434.63,715.27 435.10,715.27 435.57,715.26 436.05,715.26 436.52,715.25 437.00,715.25 437.47,715.24 437.94,715.23 438.42,715.22 438.89,715.21 439.37,715.20 439.84,715.18 440.31,715.15 440.79,715.11 441.26,715.06 441.73,714.99 442.21,714.88 442.68,714.70 443.16,714.37 443.63,713.66 444.10,711.70 444.58,702.66 445.05,638.34 445.52,702.66 446.00,711.70 446.47,713.66 446.94,714.37 447.42,714.70 447.89,714.88 448.37,714.99 448.84,715.06 449.31,715.11 449.79,715.15 450.26,715.18 450.74,715.20 451.21,715.21 451.68,715.22 452.16,715.23 452.63,715.24 453.10,715.25 453.58,715.25 454.05,715.26 454.53,715.26 455.00,715.27 455.47,715.27 455.95,715.27 456.42,715.27 456.89,715.28 457.37,715.28 457.84,715.28 458.31,715.28 458.79,715.28 459.26,715.28 459.74,715.28 460.21,715.29 460.68,715.29 461.16,715.29 461.63,715.29 462.11,715.29 462.58,715.29 463.05,715.29 463.53,715.29 464.00,715.29 474.00,715.30 484.00,715.30 494.00,715.30 504.00,715.30 514.00,715.30 524.00,715.30 534.00,715.30 544.00,715.30 554.00,715.30 564.00,715.30 574.00,715.30 582.40,715.30"/>
</g>
<g clip-path="url(#cr2)" fill="none" stroke-width="1.4" stroke-linejoin="round">
<polyline stroke="#ea0000" points="602.89,712.76 608.15,712.75 613.41,712.74 618.68,712.73 623.94,712.71 629.20,712.69 634.46,712.67 639.72,712.65 644.99,712.62 650.25,712.57 655.51,712.52 660.77,712.44 661.30,712.43 661.82,712.42 662.35,712.41 662.88,712.40 663.40,712.39 663.93,712.38 664.46,712.37 664.98,712.36 665.51,712.34 666.03,712.33 666.56,712.32 667.09,712.30 667.61,712.29 668.14,712.27 668.67,712.25 669.19,712.24 669.72,712.22 670.24,712.20 670.77,712.18 671.30,712.16 671.82,712.13 672.35,712.11 672.87,712.08 673.40,712.06 673.93,712.03 674.45,712.00 674.98,711.96 675.51,711.93 676.03,711.89 676.56,711.85 677.08,711.81 677.61,711.76 678.14,711.71 678.66,711.65 679.19,711.59 679.72,711.52 680.24,711.45 680.77,711.37 681.29,711.28 681.82,711.18 682.35,711.06 682.87,710.93 683.40,710.79 683.93,710.62 684.45,710.43 684.98,710.20 685.50,709.94 686.03,709.62 686.56,709.23 687.08,708.74 687.61,708.13 688.13,707.33 688.66,706.26 689.19,704.76 689.71,702.58 690.24,699.21 690.77,693.68 691.29,684.05 691.82,667.53 692.34,647.44 692.87,646.26 693.40,664.15 693.92,678.16 694.45,684.32 694.98,684.54 695.50,679.05 696.03,666.05 696.55,646.73 697.08,640.78 697.61,657.64 698.13,673.76 698.66,681.73 699.18,683.36 699.71,679.35 700.24,668.24 700.76,649.56 701.29,638.73 701.82,652.76 702.34,670.42 702.87,680.03 703.39,682.88 703.92,680.14 704.45,670.73 704.97,653.21 705.50,638.45 706.03,648.35 706.55,667.06 707.08,678.36 707.60,682.46 708.13,680.90 708.66,673.06 709.18,657.06 709.71,639.63 710.24,644.40 710.76,663.48 711.29,676.52 711.81,681.93 712.34,681.52 712.87,675.13 713.39,660.83 713.92,642.01 714.44,641.14 714.97,659.64 715.50,674.43 716.02,681.22 716.55,681.94 717.08,676.91 717.60,664.37 718.13,645.27 718.65,638.86 719.18,655.58 719.71,672.03 720.23,680.30 720.76,682.17 721.29,678.41 721.81,667.59 722.34,649.09 722.86,637.78 723.39,651.43 723.92,669.29 724.44,679.15 724.97,682.20 725.49,679.64 726.02,670.46 726.55,653.14 727.07,638.03 727.60,647.37 728.13,666.20 728.65,677.73 729.18,682.01 729.70,680.62 730.23,672.98 730.76,657.20 731.28,639.56 731.81,643.67 732.34,662.75 732.86,676.02 733.39,681.61 733.91,681.35 734.44,675.15 734.97,661.08 735.49,642.19 736.02,640.63 736.55,659.00 737.07,674.01 737.60,680.99 738.12,681.86 738.65,677.00 739.18,664.68 739.70,645.63 740.23,638.58 740.75,655.01 741.28,671.66 741.81,680.13 742.33,682.15 742.86,678.55 743.39,667.94 743.91,649.57 744.44,637.74 744.96,650.94 745.49,668.96 746.02,679.02 746.54,682.23 747.07,679.83 747.60,670.85 748.12,653.72 748.65,638.23 749.17,646.99 749.70,665.91 750.23,677.66 750.75,682.11 751.28,680.87 751.80,673.42 752.33,657.86 752.86,640.01 753.38,643.45 753.91,662.52 754.44,676.02 754.96,681.79 755.49,681.68 756.01,675.67 756.54,661.83 757.07,642.88 757.59,640.66 758.12,658.87 758.65,674.11 759.17,681.29 759.70,682.33 760.22,677.65 760.75,665.57 761.28,646.59 761.80,638.94 762.33,655.08 762.86,671.95 763.38,680.65 763.91,682.85 764.43,679.45 764.96,669.10 765.49,650.90 766.01,638.63 766.54,651.40 767.06,669.64 767.59,679.99 768.12,683.44 768.64,681.28 769.17,672.62 769.70,655.80 770.22,640.11 770.75,648.43 771.27,667.63 771.80,679.84 772.33,684.75 772.85,684.02 773.38,677.21 773.91,662.44 774.43,645.16 774.96,648.94 775.48,669.40 776.01,685.19 776.54,694.33 777.06,699.60 777.59,702.82 778.11,704.93 778.64,706.37 779.17,707.42 779.69,708.19 780.22,708.79 780.75,709.27 781.27,709.65 781.80,709.96 782.32,710.23 782.85,710.45 783.38,710.64 783.90,710.80 784.43,710.95 784.96,711.07 785.48,711.19 786.01,711.28 786.53,711.37 787.06,711.45 787.59,711.53 788.11,711.59 788.64,711.66 789.17,711.71 789.69,711.76 790.22,711.81 790.74,711.85 791.27,711.89 791.80,711.93 792.32,711.97 792.85,712.00 793.37,712.03 793.90,712.06 794.43,712.09 794.95,712.11 795.48,712.14 796.01,712.16 796.53,712.18 797.06,712.20 797.58,712.22 798.11,712.24 798.64,712.26 799.16,712.27 799.69,712.29 800.22,712.30 800.74,712.32 801.27,712.33 801.79,712.35 802.32,712.36 802.85,712.37 803.37,712.38 803.90,712.39 804.42,712.40 804.95,712.41 805.48,712.42 806.00,712.43 808.11,712.47 813.37,712.54 818.63,712.59 823.89,712.63 829.16,712.66 834.42,712.68 839.68,712.70 844.94,712.72 850.20,712.73 855.47,712.74 860.73,712.75 865.99,712.76 871.25,712.77 876.51,712.77 881.78,712.78 887.04,712.79 892.30,712.79 897.56,712.79 902.82,712.80 908.09,712.80 913.35,712.80 918.61,712.81 923.87,712.81 929.13,712.81 934.40,712.81 939.66,712.82 944.92,712.82 950.18,712.82 955.44,712.82 960.71,712.82 965.97,712.82 971.23,712.82 976.49,712.83 981.75,712.83 987.02,712.83 992.28,712.83 997.54,712.83 1002.80,712.83 1008.06,712.83 1013.33,712.83 1018.59,712.83 1023.85,712.83 1029.11,712.83 1034.37,712.83 1039.64,712.83 1044.90,712.84 1050.16,712.84 1055.42,712.84 1060.68,712.84 1065.95,712.84 1066.47,712.84"/>
<polyline stroke="#00ea00" points="602.89,712.82 608.15,712.82 613.41,712.82 618.68,712.82 623.94,712.82 629.20,712.82 634.46,712.82 639.72,712.81 644.99,712.81 650.25,712.81 655.51,712.81 660.77,712.80 666.03,712.80 671.30,712.80 676.56,712.79 681.82,712.79 687.08,712.78 692.34,712.78 697.61,712.77 702.87,712.77 708.13,712.76 713.39,712.75 718.65,712.74 723.92,712.73 729.18,712.71 734.44,712.69 739.70,712.67 744.96,712.65 750.23,712.62 755.49,712.57 760.75,712.52 766.01,712.44 766.54,712.43 767.06,712.42 767.59,712.41 768.12,712.40 768.64,712.39 769.17,712.38 769.70,712.37 770.22,712.36 770.75,712.34 771.27,712.33 771.80,712.32 772.33,712.30 772.85,712.29 773.38,712.27 773.91,712.25 774.43,712.24 774.96,712.22 775.48,712.20 776.01,712.18 776.54,712.16 777.06,712.13 777.59,712.11 778.11,712.08 778.64,712.06 779.17,712.03 779.69,712.00 780.22,711.96 780.75,711.93 781.27,711.89 781.80,711.85 782.32,711.81 782.85,711.76 783.38,711.71 783.90,711.65 784.43,711.59 784.96,711.52 785.48,711.45 786.01,711.37 786.53,711.28 787.06,711.18 787.59,711.06 788.11,710.93 788.64,710.79 789.17,710.62 789.69,710.43 790.22,710.20 790.74,709.94 791.27,709.62 791.80,709.23 792.32,708.74 792.85,708.13 793.37,707.33 793.90,706.26 794.43,704.76 794.95,702.58 795.48,699.21 796.01,693.68 796.53,684.05 797.06,667.53 797.58,647.44 798.11,646.26 798.64,664.15 799.16,678.16 799.69,684.32 800.22,684.54 800.74,679.05 801.27,666.05 801.79,646.73 802.32,640.78 802.85,657.64 803.37,673.76 803.90,681.73 804.42,683.36 804.95,679.35 805.48,668.24 806.00,649.56 806.53,638.73 807.06,652.76 807.58,670.42 808.11,680.03 808.63,682.88 809.16,680.14 809.69,670.73 810.21,653.21 810.74,638.45 811.27,648.35 811.79,667.06 812.32,678.36 812.84,682.46 813.37,680.90 813.90,673.06 814.42,657.06 814.95,639.63 815.48,644.40 816.00,663.48 816.53,676.52 817.05,681.93 817.58,681.52 818.11,675.13 818.63,660.83 819.16,642.01 819.68,641.14 820.21,659.64 820.74,674.43 821.26,681.22 821.79,681.94 822.32,676.91 822.84,664.37 823.37,645.27 823.89,638.86 824.42,655.58 824.95,672.03 825.47,680.30 826.00,682.17 826.53,678.41 827.05,667.59 827.58,649.09 828.10,637.78 828.63,651.43 829.16,669.29 829.68,679.15 830.21,682.20 830.73,679.64 831.26,670.46 831.79,653.14 832.31,638.03 832.84,647.37 833.37,666.20 833.89,677.73 834.42,682.01 834.94,680.62 835.47,672.98 836.00,657.20 836.52,639.56 837.05,643.67 837.58,662.75 838.10,676.02 838.63,681.61 839.15,681.35 839.68,675.15 840.21,661.08 840.73,642.19 841.26,640.63 841.79,659.00 842.31,674.01 842.84,680.99 843.36,681.86 843.89,677.00 844.42,664.68 844.94,645.63 845.47,638.58 845.99,655.01 846.52,671.66 847.05,680.13 847.57,682.15 848.10,678.55 848.63,667.94 849.15,649.57 849.68,637.74 850.20,650.94 850.73,668.96 851.26,679.02 851.78,682.23 852.31,679.83 852.84,670.85 853.36,653.72 853.89,638.23 854.41,646.99 854.94,665.91 855.47,677.66 855.99,682.11 856.52,680.87 857.04,673.42 857.57,657.86 858.10,640.01 858.62,643.45 859.15,662.52 859.68,676.02 860.20,681.79 860.73,681.68 861.25,675.67 861.78,661.83 862.31,642.88 862.83,640.66 863.36,658.87 863.89,674.11 864.41,681.29 864.94,682.33 865.46,677.65 865.99,665.57 866.52,646.59 867.04,638.94 867.57,655.08 868.10,671.95 868.62,680.65 869.15,682.85 869.67,679.45 870.20,669.10 870.73,650.90 871.25,638.63 871.78,651.40 872.30,669.64 872.83,679.99 873.36,683.44 873.88,681.28 874.41,672.62 874.94,655.80 875.46,640.11 875.99,648.43 876.51,667.63 877.04,679.84 877.57,684.75 878.09,684.02 878.62,677.21 879.15,662.44 879.67,645.16 880.20,648.94 880.72,669.40 881.25,685.19 881.78,694.33 882.30,699.60 882.83,702.82 883.35,704.93 883.88,706.37 884.41,707.42 884.93,708.19 885.46,708.79 885.99,709.27 886.51,709.65 887.04,709.96 887.56,710.23 888.09,710.45 888.62,710.64 889.14,710.80 889.67,710.95 890.20,711.07 890.72,711.19 891.25,711.28 891.77,711.37 892.30,711.45 892.83,711.53 893.35,711.59 893.88,711.66 894.41,711.71 894.93,711.76 895.46,711.81 895.98,711.85 896.51,711.89 897.04,711.93 897.56,711.97 898.09,712.00 898.61,712.03 899.14,712.06 899.67,712.09 900.19,712.11 900.72,712.14 901.25,712.16 901.77,712.18 902.30,712.20 902.82,712.22 903.35,712.24 903.88,712.26 904.40,712.27 904.93,712.29 905.46,712.30 905.98,712.32 906.51,712.33 907.03,712.35 907.56,712.36 908.09,712.37 908.61,712.38 909.14,712.39 909.66,712.40 910.19,712.41 910.72,712.42 911.24,712.43 913.35,712.47 918.61,712.54 923.87,712.59 929.13,712.63 934.40,712.66 939.66,712.68 944.92,712.70 950.18,712.72 955.44,712.73 960.71,712.74 965.97,712.75 971.23,712.76 976.49,712.77 981.75,712.77 987.02,712.78 992.28,712.79 997.54,712.79 1002.80,712.79 1008.06,712.80 1013.33,712.80 1018.59,712.80 1023.85,712.81 1029.11,712.81 1034.37,712.81 1039.64,712.81 1044.90,712.82 1050.16,712.82 1055.42,712.82 1060.68,712.82 1065.95,712.82 1066.47,712.82"/>
<polyline stroke="#0808dc" points="602.89,712.84 608.15,712.84 613.41,712.84 618.68,712.84 623.94,712.84 629.20,712.84 634.46,712.84 639.72,712.83 644.99,712.83 650.25,712.83 655.51,712.83 660.77,712.83 666.03,712.83 671.30,712.83 676.56,712.83 681.82,712.83 687.08,712.83 692.34,712.83 697.61,712.83 702.87,712.83 708.13,712.82 713.39,712.82 718.65,712.82 723.92,712.82 729.18,712.82 734.44,712.82 739.70,712.82 744.96,712.81 750.23,712.81 755.49,712.81 760.75,712.81 766.01,712.80 771.27,712.80 776.54,712.80 781.80,712.79 787.06,712.79 792.32,712.78 797.58,712.78 802.85,712.77 808.11,712.77 813.37,712.76 818.63,712.75 823.89,712.74 829.16,712.73 834.42,712.71 839.68,712.69 844.94,712.67 850.20,712.65 855.47,712.62 860.73,712.57 865.99,712.52 871.25,712.44 871.78,712.43 872.30,712.42 872.83,712.41 873.36,712.40 873.88,712.39 874.41,712.38 874.94,712.37 875.46,712.36 875.99,712.34 876.51,712.33 877.04,712.32 877.57,712.30 878.09,712.29 878.62,712.27 879.15,712.25 879.67,712.24 880.20,712.22 880.72,712.20 881.25,712.18 881.78,712.16 882.30,712.13 882.83,712.11 883.35,712.08 883.88,712.06 884.41,712.03 884.93,712.00 885.46,711.96 885.99,711.93 886.51,711.89 887.04,711.85 887.56,711.81 888.09,711.76 888.62,711.71 889.14,711.65 889.67,711.59 890.20,711.52 890.72,711.45 891.25,711.37 891.77,711.28 892.30,711.18 892.83,711.06 893.35,710.93 893.88,710.79 894.41,710.62 894.93,710.43 895.46,710.20 895.98,709.94 896.51,709.62 897.04,709.23 897.56,708.74 898.09,708.13 898.61,707.33 899.14,706.26 899.67,704.76 900.19,702.58 900.72,699.21 901.25,693.68 901.77,684.05 902.30,667.53 902.82,647.44 903.35,646.26 903.88,664.15 904.40,678.16 904.93,684.32 905.46,684.54 905.98,679.05 906.51,666.05 907.03,646.73 907.56,640.78 908.09,657.64 908.61,673.76 909.14,681.73 909.66,683.36 910.19,679.35 910.72,668.24 911.24,649.56 911.77,638.73 912.30,652.76 912.82,670.42 913.35,680.03 913.87,682.88 914.40,680.14 914.93,670.73 915.45,653.21 915.98,638.45 916.51,648.35 917.03,667.06 917.56,678.36 918.08,682.46 918.61,680.90 919.14,673.06 919.66,657.06 920.19,639.63 920.72,644.40 921.24,663.48 921.77,676.52 922.29,681.93 922.82,681.52 923.35,675.13 923.87,660.83 924.40,642.01 924.92,641.14 925.45,659.64 925.98,674.43 926.50,681.22 927.03,681.94 927.56,676.91 928.08,664.37 928.61,645.27 929.13,638.86 929.66,655.58 930.19,672.03 930.71,680.30 931.24,682.17 931.77,678.41 932.29,667.59 932.82,649.09 933.34,637.78 933.87,651.43 934.40,669.29 934.92,679.15 935.45,682.20 935.97,679.64 936.50,670.46 937.03,653.14 937.55,638.03 938.08,647.37 938.61,666.20 939.13,677.73 939.66,682.01 940.18,680.62 940.71,672.98 941.24,657.20 941.76,639.56 942.29,643.67 942.82,662.75 943.34,676.02 943.87,681.61 944.39,681.35 944.92,675.15 945.45,661.08 945.97,642.19 946.50,640.63 947.03,659.00 947.55,674.01 948.08,680.99 948.60,681.86 949.13,677.00 949.66,664.68 950.18,645.63 950.71,638.58 951.23,655.01 951.76,671.66 952.29,680.13 952.81,682.15 953.34,678.55 953.87,667.94 954.39,649.57 954.92,637.74 955.44,650.94 955.97,668.96 956.50,679.02 957.02,682.23 957.55,679.83 958.08,670.85 958.60,653.72 959.13,638.23 959.65,646.99 960.18,665.91 960.71,677.66 961.23,682.11 961.76,680.87 962.28,673.42 962.81,657.86 963.34,640.01 963.86,643.45 964.39,662.52 964.92,676.02 965.44,681.79 965.97,681.68 966.49,675.67 967.02,661.83 967.55,642.88 968.07,640.66 968.60,658.87 969.13,674.11 969.65,681.29 970.18,682.33 970.70,677.65 971.23,665.57 971.76,646.59 972.28,638.94 972.81,655.08 973.34,671.95 973.86,680.65 974.39,682.85 974.91,679.45 975.44,669.10 975.97,650.90 976.49,638.63 977.02,651.40 977.54,669.64 978.07,679.99 978.60,683.44 979.12,681.28 979.65,672.62 980.18,655.80 980.70,640.11 981.23,648.43 981.75,667.63 982.28,679.84 982.81,684.75 983.33,684.02 983.86,677.21 984.39,662.44 984.91,645.16 985.44,648.94 985.96,669.40 986.49,685.19 987.02,694.33 987.54,699.60 988.07,702.82 988.59,704.93 989.12,706.37 989.65,707.42 990.17,708.19 990.70,708.79 991.23,709.27 991.75,709.65 992.28,709.96 992.80,710.23 993.33,710.45 993.86,710.64 994.38,710.80 994.91,710.95 995.44,711.07 995.96,711.19 996.49,711.28 997.01,711.37 997.54,711.45 998.07,711.53 998.59,711.59 999.12,711.66 999.65,711.71 1000.17,711.76 1000.70,711.81 1001.22,711.85 1001.75,711.89 1002.28,711.93 1002.80,711.97 1003.33,712.00 1003.85,712.03 1004.38,712.06 1004.91,712.09 1005.43,712.11 1005.96,712.14 1006.49,712.16 1007.01,712.18 1007.54,712.20 1008.06,712.22 1008.59,712.24 1009.12,712.26 1009.64,712.27 1010.17,712.29 1010.70,712.30 1011.22,712.32 1011.75,712.33 1012.27,712.35 1012.80,712.36 1013.33,712.37 1013.85,712.38 1014.38,712.39 1014.90,712.40 1015.43,712.41 1015.96,712.42 1016.48,712.43 1018.59,712.47 1023.85,712.54 1029.11,712.59 1034.37,712.63 1039.64,712.66 1044.90,712.68 1050.16,712.70 1055.42,712.72 1060.68,712.73 1065.95,712.74 1066.47,712.74"/>
</g>
<g stroke="#2a2a2a" stroke-width="1.8" fill="none" stroke-linecap="butt">
<line x1="112.5" y1="16.3" x2="1061.8000000000002" y2="16.3" stroke-width="1.6"/>
<line x1="113.4" y1="16.3" x2="113.4" y2="717.9" stroke="#111"/>
<line x1="1060.9" y1="16.0" x2="1060.9" y2="717.9" stroke="#505050"/>
<line x1="113.4" y1="249.7" x2="573.3" y2="249.7"/>
<line x1="600.4" y1="249.7" x2="1060.9" y2="249.7"/>
<line x1="160.80" y1="249.7" x2="160.80" y2="244.7"/>
<line x1="208.18" y1="249.7" x2="208.18" y2="247.1"/>
<line x1="255.55" y1="249.7" x2="255.55" y2="244.7"/>
<line x1="302.93" y1="249.7" x2="302.93" y2="247.1"/>
<line x1="350.30" y1="249.7" x2="350.30" y2="244.7"/>
<line x1="397.68" y1="249.7" x2="397.68" y2="247.1"/>
<line x1="445.05" y1="249.7" x2="445.05" y2="244.7"/>
<line x1="492.43" y1="249.7" x2="492.43" y2="247.1"/>
<line x1="539.80" y1="249.7" x2="539.80" y2="244.7"/>
<line x1="639.78" y1="249.7" x2="639.78" y2="247.1"/>
<line x1="692.40" y1="249.7" x2="692.40" y2="244.7"/>
<line x1="745.02" y1="249.7" x2="745.02" y2="247.1"/>
<line x1="797.64" y1="249.7" x2="797.64" y2="244.7"/>
<line x1="850.26" y1="249.7" x2="850.26" y2="247.1"/>
<line x1="902.88" y1="249.7" x2="902.88" y2="244.7"/>
<line x1="955.50" y1="249.7" x2="955.50" y2="247.1"/>
<line x1="1008.12" y1="249.7" x2="1008.12" y2="244.7"/>
<line x1="113.4" y1="224.39" x2="116.7" y2="224.39"/>
<line x1="113.4" y1="201.28" x2="118.9" y2="201.28"/>
<line x1="113.4" y1="178.17" x2="116.7" y2="178.17"/>
<line x1="113.4" y1="155.06" x2="118.9" y2="155.06"/>
<line x1="113.4" y1="131.95" x2="116.7" y2="131.95"/>
<line x1="113.4" y1="108.84" x2="118.9" y2="108.84"/>
<line x1="113.4" y1="85.73" x2="116.7" y2="85.73"/>
<line x1="113.4" y1="62.62" x2="118.9" y2="62.62"/>
<line x1="113.4" y1="39.51" x2="116.7" y2="39.51"/>
<line x1="113.4" y1="247.50" x2="118.9" y2="247.50"/>
<line x1="1060.9" y1="41.97" x2="1058.1000000000001" y2="41.97"/>
<line x1="1060.9" y1="67.93" x2="1055.5" y2="67.93"/>
<line x1="1060.9" y1="93.90" x2="1058.1000000000001" y2="93.90"/>
<line x1="1060.9" y1="119.87" x2="1055.5" y2="119.87"/>
<line x1="1060.9" y1="145.83" x2="1058.1000000000001" y2="145.83"/>
<line x1="1060.9" y1="171.80" x2="1055.5" y2="171.80"/>
<line x1="1060.9" y1="197.77" x2="1058.1000000000001" y2="197.77"/>
<line x1="1060.9" y1="223.73" x2="1055.5" y2="223.73"/>
<line x1="113.4" y1="483.85" x2="582.2" y2="483.85"/>
<line x1="608.2" y1="483.85" x2="1060.9" y2="483.85"/>
<line x1="160.80" y1="483.85" x2="160.80" y2="478.85"/>
<line x1="208.18" y1="483.85" x2="208.18" y2="481.25"/>
<line x1="255.55" y1="483.85" x2="255.55" y2="478.85"/>
<line x1="302.93" y1="483.85" x2="302.93" y2="481.25"/>
<line x1="350.30" y1="483.85" x2="350.30" y2="478.85"/>
<line x1="397.68" y1="483.85" x2="397.68" y2="481.25"/>
<line x1="445.05" y1="483.85" x2="445.05" y2="478.85"/>
<line x1="492.43" y1="483.85" x2="492.43" y2="481.25"/>
<line x1="539.80" y1="483.85" x2="539.80" y2="478.85"/>
<line x1="639.78" y1="483.85" x2="639.78" y2="481.25"/>
<line x1="692.40" y1="483.85" x2="692.40" y2="478.85"/>
<line x1="745.02" y1="483.85" x2="745.02" y2="481.25"/>
<line x1="797.64" y1="483.85" x2="797.64" y2="478.85"/>
<line x1="850.26" y1="483.85" x2="850.26" y2="481.25"/>
<line x1="902.88" y1="483.85" x2="902.88" y2="478.85"/>
<line x1="955.50" y1="483.85" x2="955.50" y2="481.25"/>
<line x1="1008.12" y1="483.85" x2="1008.12" y2="478.85"/>
<line x1="113.4" y1="458.19" x2="116.7" y2="458.19"/>
<line x1="113.4" y1="435.08" x2="118.9" y2="435.08"/>
<line x1="113.4" y1="411.97" x2="116.7" y2="411.97"/>
<line x1="113.4" y1="388.86" x2="118.9" y2="388.86"/>
<line x1="113.4" y1="365.75" x2="116.7" y2="365.75"/>
<line x1="113.4" y1="342.64" x2="118.9" y2="342.64"/>
<line x1="113.4" y1="319.53" x2="116.7" y2="319.53"/>
<line x1="113.4" y1="296.42" x2="118.9" y2="296.42"/>
<line x1="113.4" y1="273.31" x2="116.7" y2="273.31"/>
<line x1="113.4" y1="481.30" x2="118.9" y2="481.30"/>
<line x1="1060.9" y1="275.72" x2="1058.1000000000001" y2="275.72"/>
<line x1="1060.9" y1="301.73" x2="1055.5" y2="301.73"/>
<line x1="1060.9" y1="327.75" x2="1058.1000000000001" y2="327.75"/>
<line x1="1060.9" y1="353.77" x2="1055.5" y2="353.77"/>
<line x1="1060.9" y1="379.78" x2="1058.1000000000001" y2="379.78"/>
<line x1="1060.9" y1="405.80" x2="1055.5" y2="405.80"/>
<line x1="1060.9" y1="431.82" x2="1058.1000000000001" y2="431.82"/>
<line x1="1060.9" y1="457.83" x2="1055.5" y2="457.83"/>
<line x1="113.4" y1="717.9" x2="581.4" y2="717.9"/>
<line x1="609.3" y1="717.9" x2="1060.9" y2="717.9"/>
<line x1="160.80" y1="717.9" x2="160.80" y2="712.9"/>
<line x1="208.18" y1="717.9" x2="208.18" y2="715.3"/>
<line x1="255.55" y1="717.9" x2="255.55" y2="712.9"/>
<line x1="302.93" y1="717.9" x2="302.93" y2="715.3"/>
<line x1="350.30" y1="717.9" x2="350.30" y2="712.9"/>
<line x1="397.68" y1="717.9" x2="397.68" y2="715.3"/>
<line x1="445.05" y1="717.9" x2="445.05" y2="712.9"/>
<line x1="492.43" y1="717.9" x2="492.43" y2="715.3"/>
<line x1="539.80" y1="717.9" x2="539.80" y2="712.9"/>
<line x1="639.78" y1="717.9" x2="639.78" y2="715.3"/>
<line x1="692.40" y1="717.9" x2="692.40" y2="712.9"/>
<line x1="745.02" y1="717.9" x2="745.02" y2="715.3"/>
<line x1="797.64" y1="717.9" x2="797.64" y2="712.9"/>
<line x1="850.26" y1="717.9" x2="850.26" y2="715.3"/>
<line x1="902.88" y1="717.9" x2="902.88" y2="712.9"/>
<line x1="955.50" y1="717.9" x2="955.50" y2="715.3"/>
<line x1="1008.12" y1="717.9" x2="1008.12" y2="712.9"/>
<line x1="113.4" y1="692.19" x2="116.7" y2="692.19"/>
<line x1="113.4" y1="669.08" x2="118.9" y2="669.08"/>
<line x1="113.4" y1="645.97" x2="116.7" y2="645.97"/>
<line x1="113.4" y1="622.86" x2="118.9" y2="622.86"/>
<line x1="113.4" y1="599.75" x2="116.7" y2="599.75"/>
<line x1="113.4" y1="576.64" x2="118.9" y2="576.64"/>
<line x1="113.4" y1="553.53" x2="116.7" y2="553.53"/>
<line x1="113.4" y1="530.42" x2="118.9" y2="530.42"/>
<line x1="113.4" y1="507.31" x2="116.7" y2="507.31"/>
<line x1="113.4" y1="715.30" x2="118.9" y2="715.30"/>
<line x1="1060.9" y1="509.86" x2="1058.1000000000001" y2="509.86"/>
<line x1="1060.9" y1="535.86" x2="1055.5" y2="535.86"/>
<line x1="1060.9" y1="561.87" x2="1058.1000000000001" y2="561.87"/>
<line x1="1060.9" y1="587.87" x2="1055.5" y2="587.87"/>
<line x1="1060.9" y1="613.88" x2="1058.1000000000001" y2="613.88"/>
<line x1="1060.9" y1="639.88" x2="1055.5" y2="639.88"/>
<line x1="1060.9" y1="665.89" x2="1058.1000000000001" y2="665.89"/>
<line x1="1060.9" y1="691.89" x2="1055.5" y2="691.89"/>
</g>
<g stroke="#000" stroke-width="1.6" fill="none">
<line x1="561.9" y1="271.6" x2="584.3" y2="230.4"/>
<line x1="585.5" y1="274.0" x2="607.7" y2="232.8"/>
<line x1="572.8" y1="502.4" x2="594.9" y2="461.25"/>
<line x1="596.25" y1="504.5" x2="618.4" y2="463.6"/>
<line x1="572.5" y1="735.3" x2="594.7" y2="694.3"/>
<line x1="596.3" y1="737.4" x2="618.4" y2="696.6"/>
</g>
<g font-size="23px">
<text x="107.3" y="23.10" text-anchor="end">1.0</text>
<text x="107.3" y="69.32" text-anchor="end">0.8</text>
<text x="107.3" y="115.54" text-anchor="end">0.6</text>
<text x="107.3" y="161.76" text-anchor="end">0.4</text>
<text x="107.3" y="207.98" text-anchor="end">0.2</text>
<text x="107.3" y="254.20" text-anchor="end">0.0</text>
<text x="1067.2" y="22.80">0</text>
<text x="1067.2" y="74.73">-20</text>
<text x="1067.2" y="126.67">-40</text>
<text x="1067.2" y="178.60">-60</text>
<text x="1067.2" y="230.53">-80</text>
<text x="107.3" y="303.12" text-anchor="end">0.8</text>
<text x="107.3" y="349.34" text-anchor="end">0.6</text>
<text x="107.3" y="395.56" text-anchor="end">0.4</text>
<text x="107.3" y="441.78" text-anchor="end">0.2</text>
<text x="107.3" y="488.00" text-anchor="end">0.0</text>
<text x="1067.2" y="256.50">0</text>
<text x="1067.2" y="308.53">-20</text>
<text x="1067.2" y="360.57">-40</text>
<text x="1067.2" y="412.60">-60</text>
<text x="1067.2" y="464.63">-80</text>
<text x="107.3" y="537.12" text-anchor="end">0.8</text>
<text x="107.3" y="583.34" text-anchor="end">0.6</text>
<text x="107.3" y="629.56" text-anchor="end">0.4</text>
<text x="107.3" y="675.78" text-anchor="end">0.2</text>
<text x="107.3" y="722.00" text-anchor="end">0.0</text>
<text x="1067.2" y="490.65">0</text>
<text x="1067.2" y="542.66">-20</text>
<text x="1067.2" y="594.67">-40</text>
<text x="1067.2" y="646.68">-60</text>
<text x="1067.2" y="698.69">-80</text>
<text x="160.80" y="741.5" text-anchor="middle">-4</text>
<text x="255.55" y="741.5" text-anchor="middle">-2</text>
<text x="350.30" y="741.5" text-anchor="middle">0</text>
<text x="445.05" y="741.5" text-anchor="middle">2</text>
<text x="539.80" y="741.5" text-anchor="middle">4</text>
<text x="692.40" y="741.5" text-anchor="middle">14</text>
<text x="797.64" y="741.5" text-anchor="middle">16</text>
<text x="902.88" y="741.5" text-anchor="middle">18</text>
<text x="1008.12" y="741.5" text-anchor="middle">20</text>
</g>
<g font-size="29.2px">
<text transform="translate(1047,52.80) scale(1,1.0)" text-anchor="end">(a)</text>
<text transform="translate(1047,286.50) scale(1,1.0)" text-anchor="end">(b)</text>
<text transform="translate(1047,520.65) scale(1,1.0)" text-anchor="end">(c)</text>
<text transform="translate(562,789.2) scale(1,1.0)" text-anchor="middle">Frequency shift (GHz)</text>
<text transform="translate(22.9,379.85) rotate(-90) scale(1,1.0)" text-anchor="middle">Normalized laser intensity (a.u.)</text>
<text transform="translate(1128.9,390.9) rotate(90) scale(1,1.0)" text-anchor="middle">Relative SBS gain (a.u.)</text>
</g>
</svg></body></html>
